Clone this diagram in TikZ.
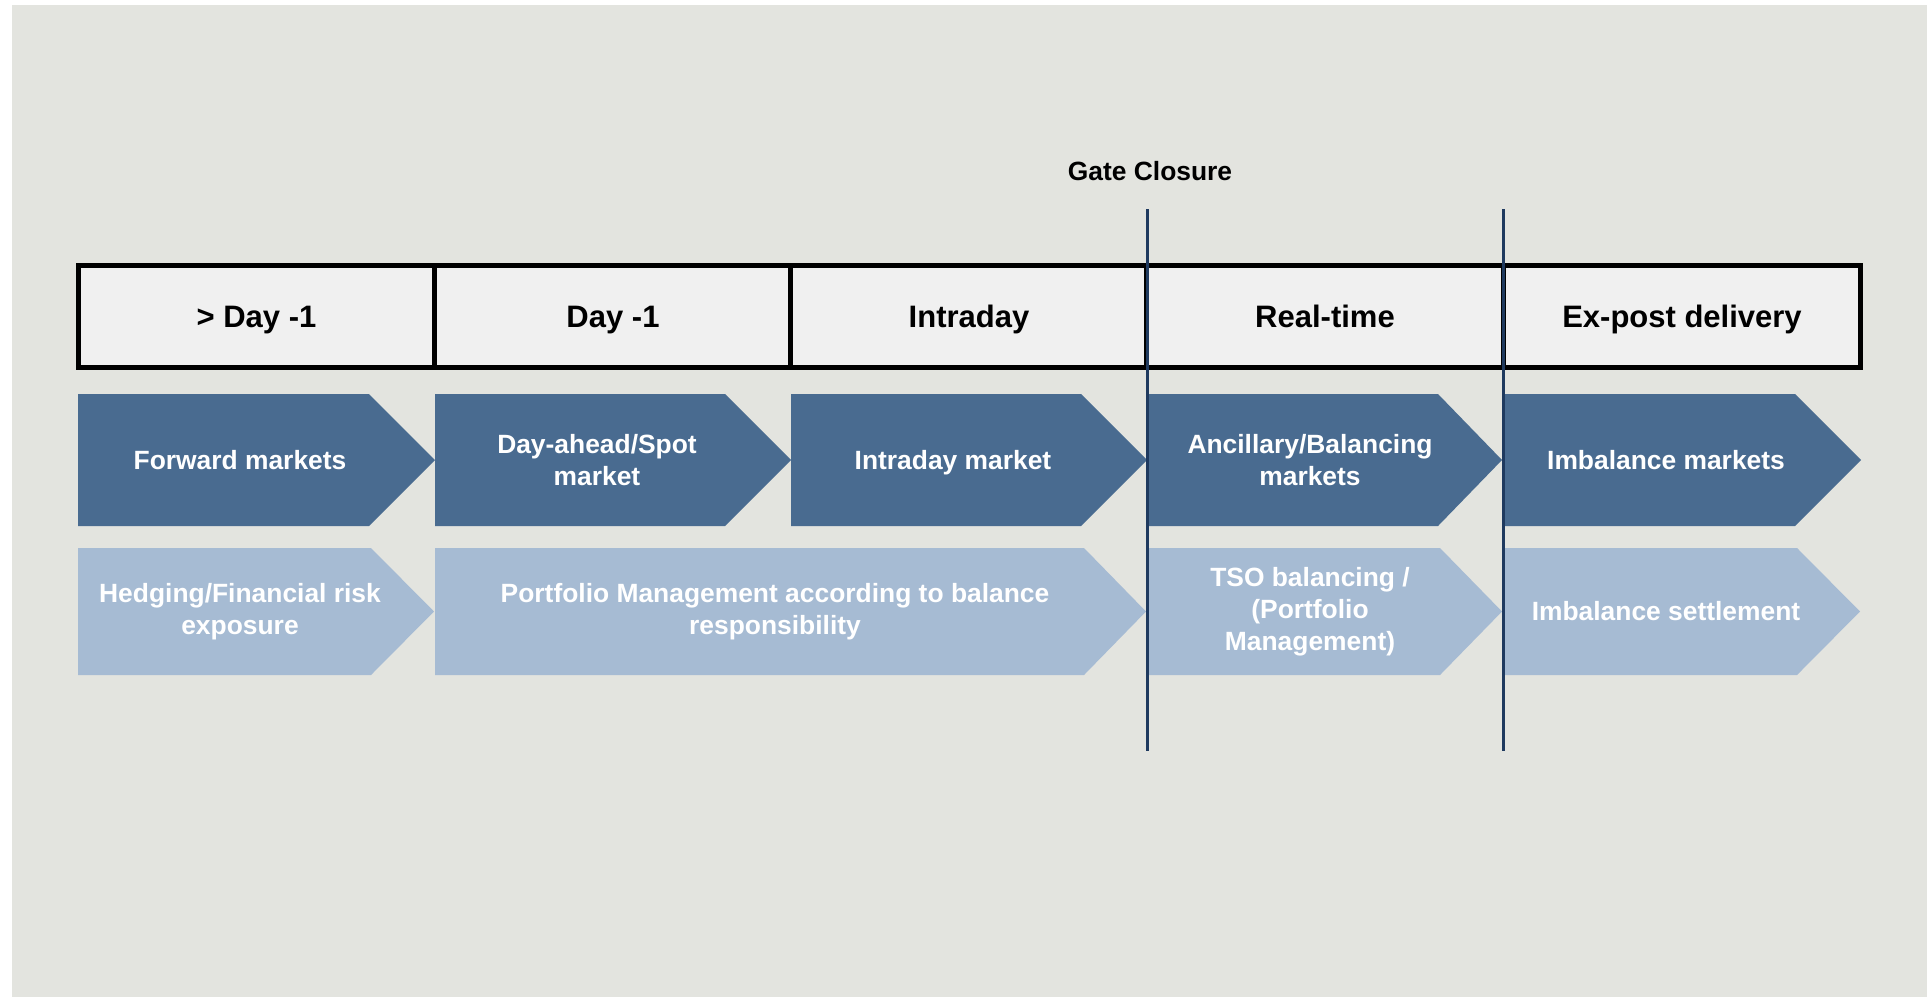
\documentclass[tikz,border=0pt]{standalone}
\usepackage{fontspec}
\setmainfont{Liberation Sans}
\definecolor{bggrey}{HTML}{E3E4DF}
\definecolor{headfill}{HTML}{F0F0F0}
\definecolor{darkblue}{HTML}{496B90}
\definecolor{lightblue}{HTML}{A6BBD3}
\definecolor{navy}{HTML}{1F3A5F}
\tikzset{
  headcell/.style={draw=black, line width=2.5pt, fill=headfill, minimum width=178.5pt, minimum height=51pt, inner sep=0pt, text height=11.1pt, text depth=0pt, font=\fontsize{15.5}{18}\selectfont\bfseries},
  darkarrow/.style={fill=darkblue},
  lightarrow/.style={fill=lightblue},
  arrowtext/.style={text=white, align=center, inner sep=0.75pt, font=\fontsize{13.2}{16}\selectfont\bfseries},
  onelinetext/.style={arrowtext, text height=9.45pt, text depth=0pt},
  gatetext/.style={inner sep=0.75pt, font=\fontsize{13.2}{16}\selectfont\bfseries},
  gateline/.style={draw=navy, line width=1.5pt},
}
\begin{document}
\begin{tikzpicture}[x=0.5pt,y=0.5pt,yscale=-1,xscale=1]
\useasboundingbox (0,0) rectangle (1931,997);
%Background
\fill[bggrey] (12,5) rectangle (1927,997);

%Header cells
\node[headcell] (day0) at (256.5,316) {> Day -1};
\node[headcell] (day1) at (613,316) {Day -1};
\node[headcell] (intra) at (969,316) {Intraday};
\node[headcell] (realtime) at (1325,316) {Real-time};
\node[headcell] (expost) at (1682,316) {Ex-post delivery};

%Shape: dark chevrons
\fill[darkarrow] (78,394) -- (369,394) -- (435,460) -- (369,526) -- (78,526) -- cycle;
\fill[darkarrow] (435,394) -- (725,394) -- (791,460) -- (725,526) -- (435,526) -- cycle;
\fill[darkarrow] (791,394) -- (1081,394) -- (1147,460) -- (1081,526) -- (791,526) -- cycle;
\fill[darkarrow] (1149,394) -- (1438,394) -- (1502,460) -- (1438,526) -- (1149,526) -- cycle;
\fill[darkarrow] (1503,394) -- (1795,394) -- (1861,460) -- (1795,526) -- (1503,526) -- cycle;

%Shape: light chevrons
\fill[lightarrow] (78,548) -- (371,548) -- (434,611.5) -- (371,675) -- (78,675) -- cycle;
\fill[lightarrow] (435,548) -- (1084,548) -- (1146,611.5) -- (1084,675) -- (435,675) -- cycle;
\fill[lightarrow] (1149,548) -- (1440,548) -- (1502,611.5) -- (1440,675) -- (1149,675) -- cycle;
\fill[lightarrow] (1503,548) -- (1797,548) -- (1860,611.5) -- (1797,675) -- (1503,675) -- cycle;

% Text Node
\node[onelinetext] (fwd) at (240,460) {Forward markets};
\node[arrowtext] (spot) at (597,460) {Day-ahead/Spot\\market};
\node[onelinetext] (idm) at (953,460) {Intraday market};
\node[arrowtext] (anc) at (1310,460) {Ancillary/Balancing\\markets};
\node[onelinetext] (imbm) at (1666,460) {Imbalance markets};
% Text Node
\node[arrowtext] (hedge) at (240,611.5) {Hedging/Financial risk\\exposure};
\node[arrowtext] (pm) at (775,611.5) {Portfolio Management according to balance\\responsibility};
\node[arrowtext] (tso) at (1310,611.5) {TSO balancing /\\(Portfolio\\Management)};
\node[onelinetext] (imbs) at (1666,611.5) {Imbalance settlement};

% Text Node
\node[gatetext] (gate) at (1150,171) {Gate Closure};

%Straight Lines
\coordinate (gtop) at (1147,209);
\coordinate (gbot) at (1147,751);
\coordinate (etop) at (1503,209);
\coordinate (ebot) at (1503,751);
\draw[gateline] (gtop) -- (gbot);
\draw[gateline] (etop) -- (ebot);
\end{tikzpicture}
\end{document}
